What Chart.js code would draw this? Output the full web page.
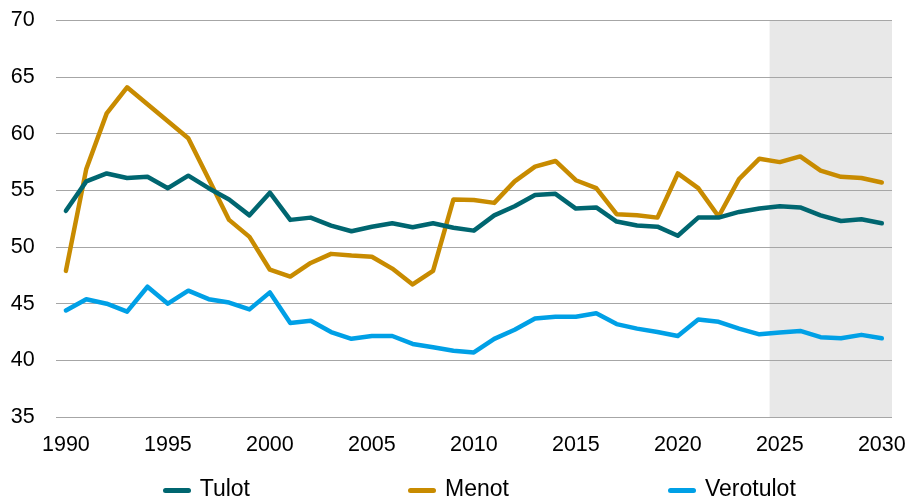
<!DOCTYPE html>
<html>
<head>
<meta charset="utf-8">
<script src="https://cdn.jsdelivr.net/npm/chart.js@4/dist/chart.umd.min.js"></script>
<style>
  html, body { margin: 0; padding: 0; background: #ffffff; }
  #wrap { position: relative; width: 910px; height: 498px; overflow: hidden; }
  #legend { position: absolute; left: 0; top: 0; width: 910px; height: 498px; pointer-events: none; }
  .item { position: absolute; top: 477px; height: 23px; display: flex; align-items: center; }
  .swatch { display: inline-block; width: 28px; height: 5px; border-radius: 3px; margin-right: 9px; position: relative; top: 2px; }
  .txt { font-family: "Liberation Sans", Arial, sans-serif; font-size: 23px; line-height: 23px; color: #000; }
</style>
</head>
<body>
<div id="wrap">
  <canvas id="c" width="910" height="498"></canvas>
  <div id="legend"></div>
</div>
<script>
// ---- Data ----
const years = ['1990','1991','1992','1993','1994','1995','1996','1997','1998','1999',
               '2000','2001','2002','2003','2004','2005','2006','2007','2008','2009',
               '2010','2011','2012','2013','2014','2015','2016','2017','2018','2019',
               '2020','2021','2022','2023','2024','2025','2026','2027','2028','2029','2030'];

const tulot = [53.2, 55.8, 56.5, 56.1, 56.2, 55.2, 56.3, 55.2, 54.2, 52.8,
               54.8, 52.4, 52.6, 51.9, 51.4, 51.8, 52.1, 51.75, 52.1, 51.7,
               51.45, 52.8, 53.6, 54.6, 54.7, 53.4, 53.5, 52.25, 51.9, 51.8,
               51.0, 52.6, 52.6, 53.1, 53.4, 53.6, 53.5, 52.8, 52.3, 52.45, 52.1];

const menot = [47.9, 56.9, 61.8, 64.1, 62.6, 61.1, 59.6, 56.0, 52.4, 50.9,
               48.0, 47.4, 48.6, 49.4, 49.25, 49.15, 48.1, 46.7, 47.9, 54.2,
               54.15, 53.9, 55.8, 57.1, 57.6, 55.9, 55.2, 52.9, 52.8, 52.6,
               56.5, 55.2, 52.7, 56.0, 57.8, 57.5, 58.0, 56.75, 56.2, 56.1, 55.7];

const verotulot = [44.4, 45.4, 45.0, 44.3, 46.5, 45.0, 46.15, 45.4, 45.1, 44.5,
                   46.0, 43.3, 43.5, 42.5, 41.9, 42.15, 42.15, 41.45, 41.15, 40.85,
                   40.7, 41.9, 42.7, 43.7, 43.85, 43.85, 44.15, 43.2, 42.8, 42.5,
                   42.15, 43.6, 43.4, 42.8, 42.3, 42.45, 42.6, 42.05, 41.95, 42.25, 41.95];

const seriesNames = ['Tulot', 'Menot', 'Verotulot'];
const yTicks = [35, 40, 45, 50, 55, 60, 65, 70];
const xTickLabels = ['1990','1995','2000','2005','2010','2015','2020','2025','2030'];
const forecastStart = '2025';

// ---- Styles ----
const colors = ['#006670', '#c88b00', '#00a0e6'];
const FONT = '"Liberation Sans", Arial, sans-serif';

const shadePlugin = {
  id: 'forecastShade',
  beforeDraw(chart) {
    const x = chart.scales.x, area = chart.chartArea, ctx = chart.ctx;
    const idx = years.indexOf(forecastStart);
    const left = (x.getPixelForValue(idx - 1) + x.getPixelForValue(idx)) / 2;
    ctx.save();
    ctx.fillStyle = '#e8e8e8';
    ctx.fillRect(left, area.top, area.right - left, area.bottom - area.top);
    ctx.restore();
  }
};

const mkDs = (label, data, color) => ({
  label, data,
  borderColor: color, backgroundColor: color,
  borderWidth: 4.5, pointRadius: 0, pointHoverRadius: 0,
  tension: 0, fill: false,
  borderCapStyle: 'round', borderJoinStyle: 'round'
});

const chart = new Chart(document.getElementById('c'), {
  type: 'line',
  data: {
    labels: years,
    datasets: [
      mkDs(seriesNames[0], tulot, colors[0]),
      mkDs(seriesNames[1], menot, colors[1]),
      mkDs(seriesNames[2], verotulot, colors[2])
    ]
  },
  options: {
    responsive: false,
    animation: false,
    devicePixelRatio: 1,
    layout: { padding: { top: 20.5, right: 18, bottom: 25.2, left: 0 } },
    plugins: { legend: { display: false }, tooltip: { enabled: false } },
    scales: {
      x: {
        type: 'category',
        offset: true,
        afterFit: (axis) => { axis.paddingLeft = 0; axis.paddingRight = 0; },
        grid: { display: false, drawTicks: false },
        border: { display: false },
        ticks: {
          autoSkip: false, maxRotation: 0, minRotation: 0,
          padding: 15,
          color: '#000',
          font: { family: FONT, size: 21.5 },
          callback: function (v, i) {
            const lab = years[i];
            return xTickLabels.includes(lab) ? lab : '';
          }
        }
      },
      y: {
        min: yTicks[0], max: yTicks[yTicks.length - 1],
        afterBuildTicks: (axis) => { axis.ticks = yTicks.map(v => ({ value: v })); },
        afterFit: (axis) => { axis.width = 55.7; axis.paddingTop = 0; axis.paddingBottom = 0; },
        grid: { color: '#a6a6a6', lineWidth: 1, drawTicks: false },
        border: { display: false },
        ticks: {
          padding: 21,
          color: '#000',
          font: { family: FONT, size: 21.5 }
        }
      }
    }
  },
  plugins: [shadePlugin]
});

// ---- HTML legend built from the chart's datasets ----
const legendLefts = [162.7, 408, 668];
const legend = document.getElementById('legend');
chart.data.datasets.forEach((ds, i) => {
  const item = document.createElement('div');
  item.className = 'item';
  item.style.left = legendLefts[i] + 'px';
  const sw = document.createElement('span');
  sw.className = 'swatch';
  sw.style.background = ds.borderColor;
  const t = document.createElement('span');
  t.className = 'txt';
  t.textContent = ds.label;
  item.appendChild(sw); item.appendChild(t);
  legend.appendChild(item);
});
</script>
</body>
</html>
